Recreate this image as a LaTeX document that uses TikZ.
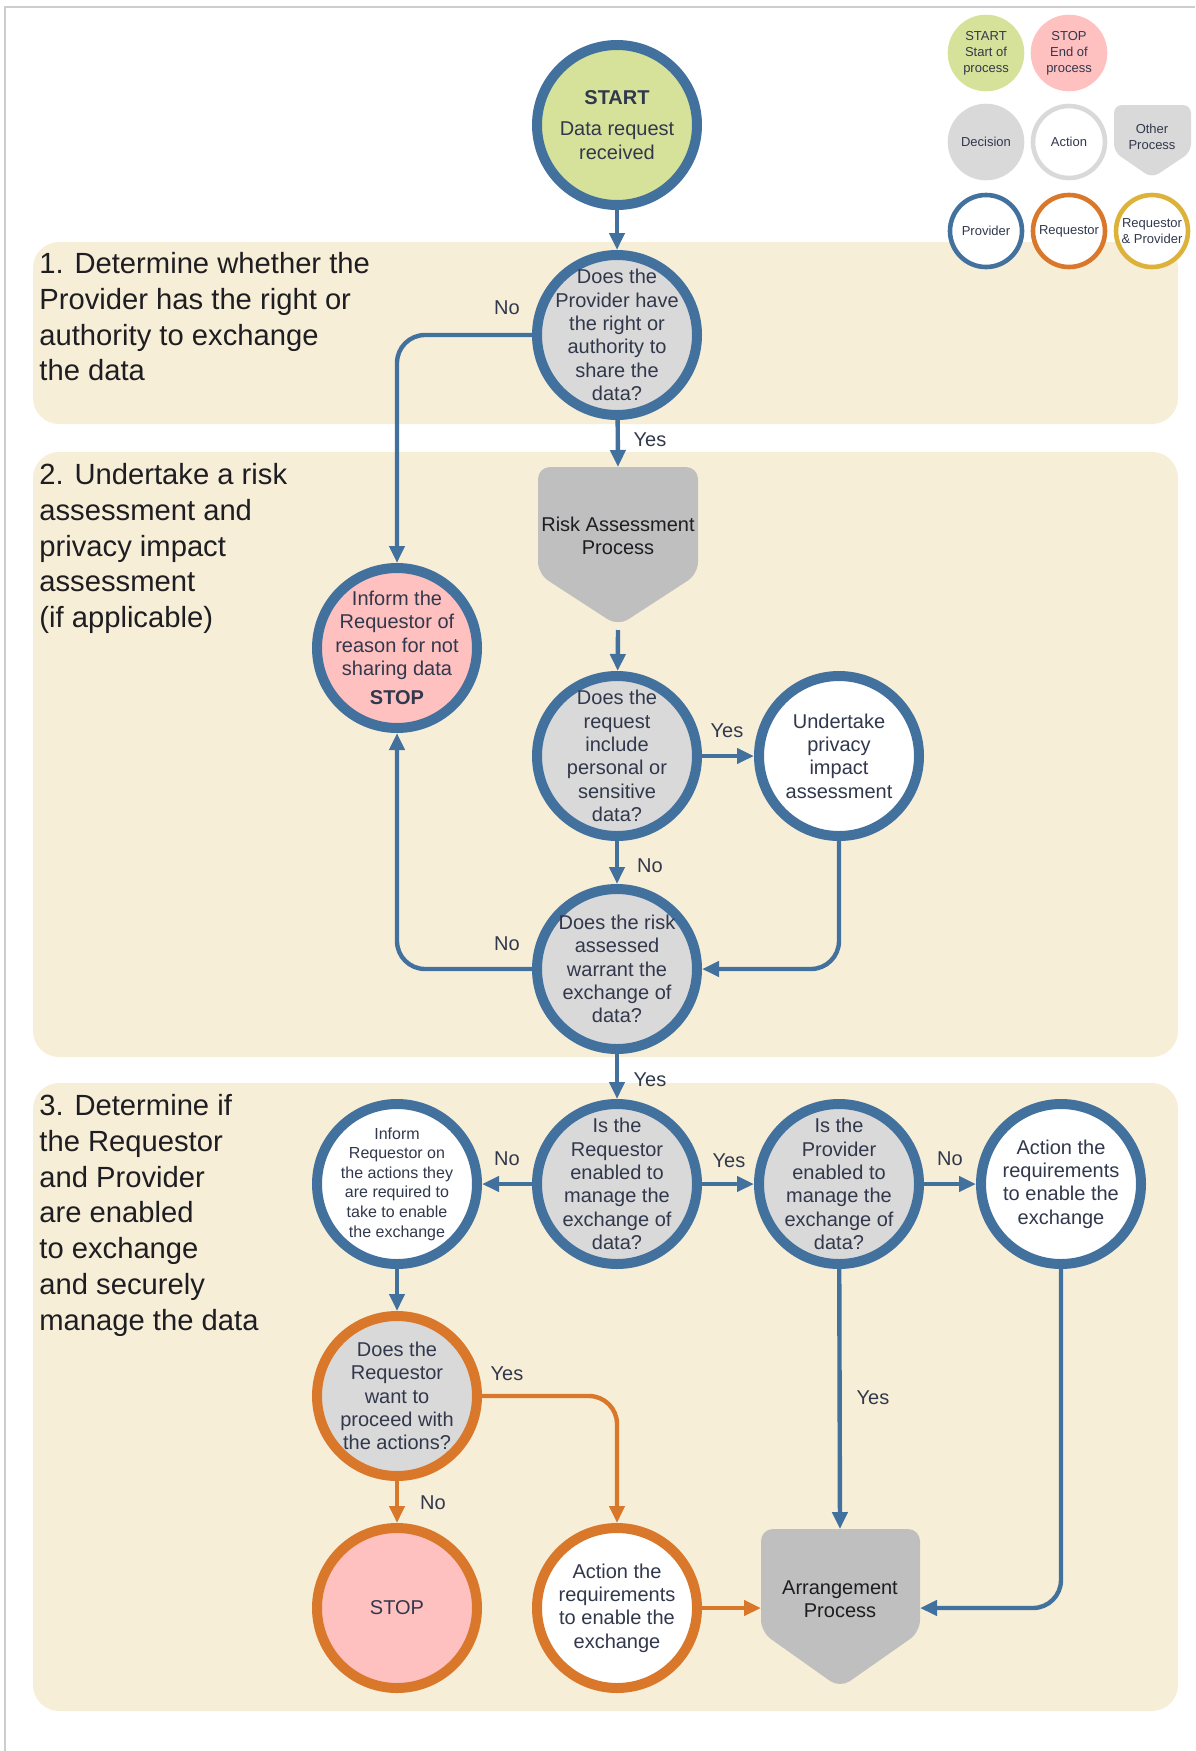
\documentclass[tikz,border=0pt]{standalone}
\usepackage{fontspec}
\setmainfont{Liberation Sans}
\usetikzlibrary{arrows.meta}
\definecolor{provblue}{RGB}{66,113,158}
\definecolor{reqorange}{RGB}{217,120,43}
\definecolor{bothgold}{RGB}{221,178,58}
\definecolor{startgreen}{RGB}{214,226,154}
\definecolor{stoppink}{RGB}{255,192,192}
\definecolor{decgray}{RGB}{217,217,217}
\definecolor{procgray}{RGB}{191,191,191}
\definecolor{bandbeige}{RGB}{247,238,216}
\definecolor{framegray}{RGB}{205,205,205}
\definecolor{ink}{RGB}{50,56,76}
\definecolor{procink}{RGB}{30,30,34}
\tikzset {>={Triangle[length=8.5pt,width=7.5pt]}}

\begin{document}
\begin{tikzpicture}[x=0.5pt,y=-0.5pt,
  ring/.style={circle,minimum size=80pt,line width=5pt,inner sep=-8pt,
    align=center,text=ink,font=\fontsize{10}{11.7}\selectfont},
  decision/.style={ring,draw=#1,fill=decgray},
  decision/.default=provblue,
  action/.style={ring,draw=#1,fill=white},
  action/.default=provblue,
  halt/.style={ring,draw=#1,fill=stoppink},
  halt/.default=provblue,
  proctext/.style={align=center,text=procink,font=\fontsize{10}{11.7}\selectfont},
  heading/.style={anchor=north west,inner sep=0pt,align=left,text=procink,
    font=\fontsize{14.6}{17.9}\selectfont},
  lbl/.style={text=ink,font=\fontsize{10}{12}\selectfont},
  flow/.style={draw=provblue,line width=2.2pt,->,rounded corners=14pt},
  reqflow/.style={flow,draw=reqorange},
  legenddot/.style={circle,minimum size=38.3pt,inner sep=0pt,fill=#1,
    align=center,text=ink,font=\fontsize{6.5}{8}\selectfont},
  legendring/.style={circle,minimum size=36pt,line width=2.3pt,inner sep=0pt,
    draw=#1,fill=white,align=center,text=ink,font=\fontsize{6.5}{8}\selectfont}]
\useasboundingbox (0,0) rectangle (1195,1751);

% frame and bands
\draw[framegray,line width=1pt] (5,1751) -- (5,7) -- (1195,7);
\fill[bandbeige,rounded corners=13pt] (33,242) rectangle (1178,424);
\fill[bandbeige,rounded corners=13pt] (33,452) rectangle (1178,1057);
\fill[bandbeige,rounded corners=13pt] (33,1083) rectangle (1178,1711);

\node[heading] (h1) at (39,252) {1. Determine whether the\\Provider has the right or\\authority to exchange\\the data};
\node[heading] (h2) at (39,463) {2. Undertake a risk\\assessment and\\privacy impact\\assessment\\(if applicable)};
\node[heading] (h3) at (39,1094) {3. Determine if\\the Requestor\\and Provider\\are enabled\\to exchange\\and securely\\manage the data};

% legend
\node[legenddot=startgreen] (kstart) at (986,53) {START\\Start of\\process};
\node[legenddot=stoppink] (kstop) at (1069,53) {STOP\\End of\\process};
\node[legenddot=decgray] (kdec) at (986,142) {Decision};
\node[legendring=decgray] (kact) at (1069,142) {Action};
\fill[decgray,rounded corners=4pt] (1114,105) -- (1191,105) -- (1191,152) -- (1152,178) -- (1114,152) -- cycle;
\node[legenddot=none] (kproc) at (1152,137) {Other\\Process};
\node[legendring=provblue] (kprov) at (986,231) {Provider};
\node[legendring=reqorange] (kreq) at (1069,231) {Requestor};
\node[legendring=bothgold] (kboth) at (1152,231) {Requestor\\\& Provider};

% process shapes
\fill[procgray,rounded corners=6pt] (538,467) -- (698,467) -- (698,574) -- (618,626) -- (538,574) -- cycle;
\node[proctext] (risk) at (618,536) {Risk Assessment\\Process};
\coordinate (risk in) at (618,467);
\coordinate (risk out) at (618,630);
\fill[procgray,rounded corners=6pt] (761,1529) -- (920,1529) -- (920,1632) -- (840,1688) -- (761,1632) -- cycle;
\node[proctext] (arrange) at (840,1599) {Arrangement\\Process};
\coordinate (arr in) at (840,1529);
\coordinate (arr left) at (761,1608);
\coordinate (arr right) at (920,1608);

% steps
\node[ring,draw=provblue,fill=startgreen] (start) at (617,125) {\textbf{START}\\[4pt]Data request\\received};
\node[decision] (d1) at (617,335) {Does the\\Provider have\\the right or\\authority to\\share the\\data?};
\node[halt] (inform) at (397,648) {Inform the\\Requestor of\\reason for not\\sharing data\\[3pt]\textbf{STOP}};
\node[decision] (d2) at (617,756) {Does the\\request\\include\\personal or\\sensitive\\data?};
\node[action] (pia) at (839,756) {Undertake\\privacy\\impact\\assessment};
\node[decision] (d3) at (617,969) {Does the risk\\assessed\\warrant the\\exchange of\\data?};
\node[action,font=\fontsize{8}{9.8}\selectfont] (tellreq) at (397,1184) {Inform\\Requestor on\\the actions they\\are required to\\take to enable\\the exchange};
\node[decision] (d4) at (617,1184) {Is the\\Requestor\\enabled to\\manage the\\exchange of\\data?};
\node[decision] (d5) at (839,1184) {Is the\\Provider\\enabled to\\manage the\\exchange of\\data?};
\node[action] (provact) at (1061,1184) {Action the\\requirements\\to enable the\\exchange};
\node[decision=reqorange] (d6) at (397,1396) {Does the\\Requestor\\want to\\proceed with\\the actions?};
\node[halt=reqorange] (stop) at (397,1608) {STOP};
\node[action=reqorange] (reqact) at (617,1608) {Action the\\requirements\\to enable the\\exchange};

% connectors
\draw[flow] (start) -- (d1);
\draw[flow] (d1.west) -| (inform.north);
\draw[flow] (d1) -- (risk in);
\draw[flow] (risk out) -- (d2);
\draw[flow] (d2) -- (pia);
\draw[flow] (d2) -- (d3);
\draw[flow] (pia.south) |- (d3.east);
\draw[flow] (d3.west) -| (inform.south);
\draw[flow] (d3) -- (d4);
\draw[flow] (d4) -- (tellreq);
\draw[flow] (d4) -- (d5);
\draw[flow] (d5) -- (provact);
\draw[flow] (d5) -- (arr in);
\draw[flow] (provact.south) |- (arr right);
\draw[flow] (tellreq) -- (d6);
\draw[reqflow] (d6) -- (stop);
\draw[reqflow] (d6.east) -| (reqact.north);
\draw[reqflow] (reqact) -- (arr left);

% branch labels
\node[lbl] (no1) at (507,308) {No};
\node[lbl] (yes1) at (650,440) {Yes};
\node[lbl] (yes2) at (727,731) {Yes};
\node[lbl] (no2) at (650,866) {No};
\node[lbl] (no3) at (507,944) {No};
\node[lbl] (yes3) at (650,1080) {Yes};
\node[lbl] (no4) at (507,1159) {No};
\node[lbl] (yes4) at (729,1161) {Yes};
\node[lbl] (no5) at (950,1159) {No};
\node[lbl] (yes5) at (873,1398) {Yes};
\node[lbl] (yes6) at (507,1374) {Yes};
\node[lbl] (no6) at (433,1503) {No};
\end{tikzpicture}
\end{document}
